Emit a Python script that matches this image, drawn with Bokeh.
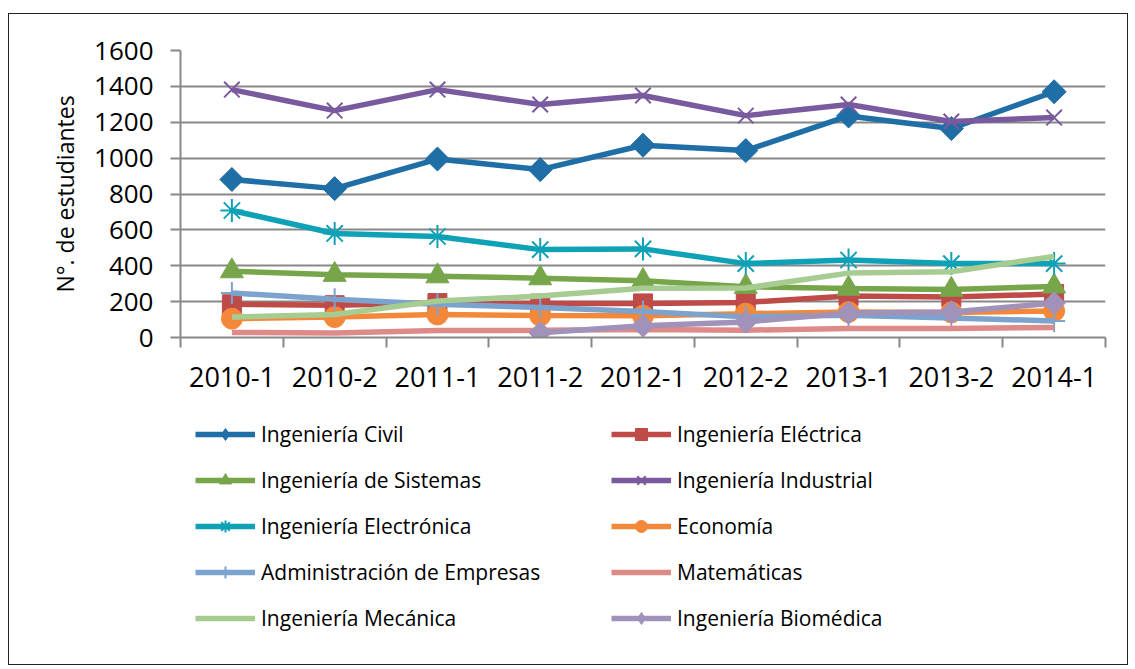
import numpy as np
from bokeh.plotting import figure
from bokeh.models import Range1d, FixedTicker, Legend, LegendItem
from bokeh.layouts import column
from bokeh.embed import file_html
from bokeh.resources import INLINE

cats = ["2010-1", "2010-2", "2011-1", "2011-2", "2012-1", "2012-2", "2013-1", "2013-2", "2014-1"]
civil = [881, 830, 995, 936, 1072, 1042, 1235, 1165, 1370]
electrica = [185, 180, 192, 189, 190, 195, 232, 226, 242]
sistemas = [370, 350, 342, 331, 316, 283, 273, 267, 285]
industrial = [1382, 1265, 1382, 1299, 1349, 1237, 1299, 1204, 1226]
electronica = [708, 580, 563, 490, 494, 412, 432, 412, 412]
economia = [105, 114, 128, 122, 121, 133, 142, 140, 148]
administracion = [248, 213, 185, 167, 145, 115, 124, 109, 92]
matematicas = [28, 25, 39, 40, 45, 41, 50, 50, 56]
mecanica = [114, 128, 203, 231, 275, 276, 359, 367, 452]
biomedica = [np.nan, np.nan, np.nan, 26, 65, 87, 137, 142, 192]
y_ticks = [0, 200, 400, 600, 800, 1000, 1200, 1400, 1600]

FONT = "Open Sans"
W = 1118
LW = 5.5

# name, values, colour, chart marker, size, angle, legend marker
series = [
    ("Ingeniería Civil", civil, "#1F6EA6", "square", 17, 0.785398, "diamond"),
    ("Ingeniería Eléctrica", electrica, "#BE4B48", "square", 19, 0, "square"),
    ("Ingeniería de Sistemas", sistemas, "#77A64A", "triangle", 23, 0, "triangle"),
    ("Ingeniería Industrial", industrial, "#7A5A9E", "x", 22, 0, "x"),
    ("Ingeniería Electrónica", electronica, "#0FA1B6", "asterisk", 23, 0, "asterisk"),
    ("Economía", economia, "#F4883A", "circle", 21, 0, "circle"),
    ("Administración de Empresas", administracion, "#7BA3CD", "cross", 22, 0, "cross"),
    ("Matemáticas", matematicas, "#DE8A89", None, 0, 0, None),
    ("Ingeniería Mecánica", mecanica, "#A6CC91", None, 0, 0, None),
    ("Ingeniería Biomédica", biomedica, "#A192BA", "square", 16, 0.785398, "diamond"),
]

xs = [i + 0.5 for i in range(len(cats))]

p = figure(width=W, height=400,
           min_border_left=171, min_border_right=W - 171 - 925, min_border_top=36, min_border_bottom=77,
           x_range=Range1d(0, len(cats)), y_range=Range1d(0, 1600),
           output_backend="svg", toolbar_location=None)
p.outline_line_color = None
p.background_fill_color = "white"
p.border_fill_color = "white"

# x axis: labels at centres, ticks at boundaries
p.xaxis.ticker = FixedTicker(ticks=xs, minor_ticks=list(range(len(cats) + 1)))
p.xaxis.major_label_overrides = {x: c for x, c in zip(xs, cats)}
p.xaxis.major_tick_out = 0
p.xaxis.major_tick_in = 0
p.xaxis.minor_tick_out = 10
p.xaxis.minor_tick_in = 0
p.xaxis.minor_tick_line_color = "#888888"
p.xaxis.minor_tick_line_width = 2
p.xaxis.major_label_standoff = 19
p.xaxis.major_label_text_font = FONT
p.xaxis.major_label_text_font_size = "27px"
p.xaxis.major_label_text_color = "black"
p.xaxis.axis_line_color = "#888888"
p.xaxis.axis_line_width = 2

p.yaxis.ticker = FixedTicker(ticks=y_ticks)
p.yaxis.minor_tick_line_color = None
p.yaxis.major_tick_out = 10
p.yaxis.major_tick_in = 0
p.yaxis.major_tick_line_color = "#888888"
p.yaxis.major_tick_line_width = 2
p.yaxis.major_label_standoff = 17
p.yaxis.major_label_text_font = FONT
p.yaxis.major_label_text_font_size = "26px"
p.yaxis.major_label_text_color = "black"
p.yaxis.axis_line_color = "#888888"
p.yaxis.axis_line_width = 2
p.yaxis.axis_label = "N°. de estudiantes"
p.yaxis.axis_label_text_font = FONT
p.yaxis.axis_label_text_font_size = "23px"
p.yaxis.axis_label_text_font_style = "normal"
p.yaxis.axis_label_text_color = "black"
p.yaxis.axis_label_standoff = 10

p.xgrid.grid_line_color = None
p.ygrid.grid_line_color = "#888888"
p.ygrid.grid_line_width = 2

# legend figure (below the chart); its frame is aligned with the chart's frame
H2 = 250
q = figure(width=W, height=H2, min_border=0, x_range=Range1d(0, len(cats)), y_range=Range1d(0, 1600),
           x_axis_location=None, y_axis_location=None,
           output_backend="svg", toolbar_location=None)
q.outline_line_color = None
q.grid.grid_line_color = None
q.background_fill_color = "white"
q.border_fill_color = "white"

items = []
for name, vals, color, marker, size, angle, lmarker in series:
    p.line(xs, vals, line_color=color, line_width=LW)
    rs = [q.line(xs, vals, line_color=color, line_width=LW, visible=False)]
    if marker is not None:
        lw = 2 if marker in ("x", "asterisk", "cross") else 1
        p.scatter(xs, vals, marker=marker, size=size, angle=angle,
                  fill_color=color, line_color=color, line_width=lw)
        rs.append(q.scatter(xs, vals, marker=lmarker, size=size,
                            fill_color=color, line_color=color, line_width=lw, visible=False))
    items.append(LegendItem(label=name, renderers=rs, index=0))

def make_legend(its, loc):
    return Legend(items=its, location=loc, orientation="vertical",
                  glyph_width=60, glyph_height=30, label_height=30, spacing=16,
                  label_standoff=6, padding=0, margin=0,
                  border_line_color=None, background_fill_alpha=0,
                  inactive_fill_alpha=0,
                  label_text_font=FONT, label_text_font_size="21px",
                  label_text_color="black")

# q frame: left edge at page x=180, bottom edge at page y=664
q.add_layout(make_legend(items[0::2], (195 - 180, 664 - 633)), "center")
q.add_layout(make_legend(items[1::2], (611 - 180, 664 - 633)), "center")

layout = column(p, q, spacing=0,
                styles={"border": "1px solid #222", "margin-left": "8px", "margin-top": "13px"})

open("out.html", "w").write(file_html(layout, INLINE))
